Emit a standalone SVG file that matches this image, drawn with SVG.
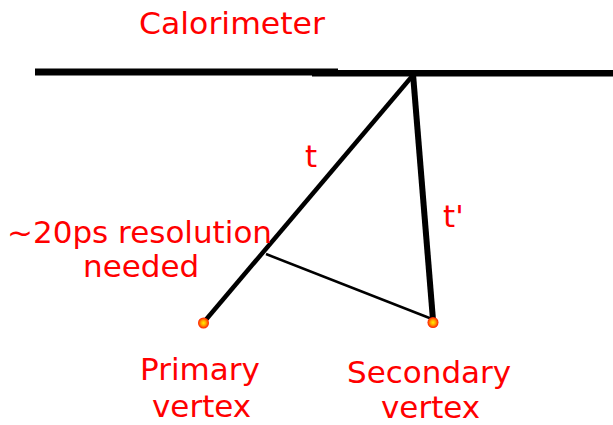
<svg xmlns="http://www.w3.org/2000/svg" width="613" height="425" viewBox="0 0 613 425">
<defs>
<radialGradient id="dot">
<stop offset="0" stop-color="#ffee00"/>
<stop offset="0.45" stop-color="#ffa500"/>
<stop offset="1" stop-color="#ff1a00"/>
</radialGradient>
<style>
.lbl{font-family:"DejaVu Sans",sans-serif;font-size:31px;fill:#ff0000}
.ln{stroke:#000;fill:none;stroke-linecap:butt}
</style>
</defs>
<rect width="613" height="425" fill="#fff"/>
<g id="calorimeter">
<line class="ln" x1="35" y1="72" x2="338" y2="72" stroke-width="7"/>
<line class="ln" x1="312" y1="73.3" x2="613" y2="73.3" stroke-width="6.5"/>
<text class="lbl" x="139" y="34" textLength="186" lengthAdjust="spacingAndGlyphs">Calorimeter</text>
</g>
<g id="connectors">
<line class="ln" x1="414" y1="74" x2="204" y2="322" stroke-width="4.5"/>
<line class="ln" x1="413" y1="74" x2="433" y2="320" stroke-width="6"/>
<line class="ln" x1="266" y1="254" x2="432" y2="319" stroke-width="2.5"/>
</g>
<g id="label-t"><text class="lbl" x="305" y="167">t</text></g>
<g id="label-tprime"><text class="lbl" x="443" y="227">t'</text></g>
<g id="resolution">
<text class="lbl" x="7" y="243">~20ps resolution</text>
<text class="lbl" x="83" y="277">needed</text>
</g>
<g id="primary-vertex">
<circle cx="203.5" cy="323" r="5.5" fill="url(#dot)"/>
<text class="lbl" x="140" y="380">Primary</text>
<text class="lbl" x="152" y="417">vertex</text>
</g>
<g id="secondary-vertex">
<circle cx="433" cy="322.5" r="5.5" fill="url(#dot)"/>
<text class="lbl" x="347" y="383">Secondary</text>
<text class="lbl" x="381" y="418">vertex</text>
</g>
</svg>
